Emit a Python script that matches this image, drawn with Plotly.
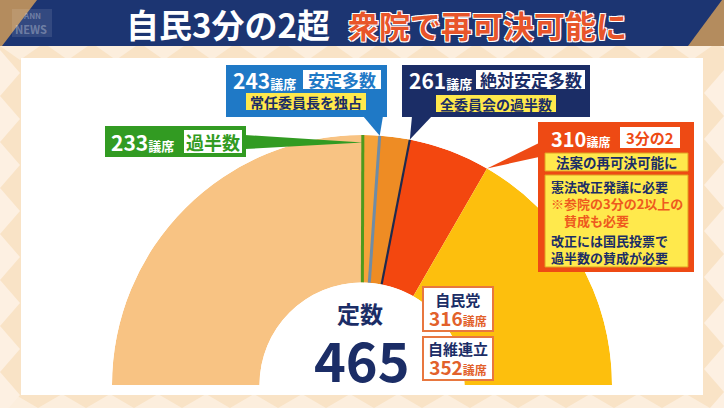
import math
import plotly.graph_objects as go

# ---------------- data ----------------
TOTAL = 465
thresholds = [233, 243, 261, 310]
threshold_names = ["過半数", "安定多数", "絶対安定多数", "3分の2"]
threshold_notes = ["", "常任委員長を独占", "全委員会の過半数", "法案の再可決可能に"]
seg_colors = ["#F8C383", "#F5A23A", "#EE8C24", "#F3470F", "#FDBF0D"]
line_colors = ["#4F9A1C", "#6F8CA6", "#1E2A4E"]
parties = ["自民党", "自維連立"]
party_seats = [316, 352]
title_white = "自民3分の2超"
title_red = "衆院で再可決可能に"
notes_310_a = ["憲法改正発議に必要", "※参院の3分の2以上の", "　賛成も必要"]
notes_310_b = ["改正には国民投票で", "過半数の賛成が必要"]

# ---------------- geometry ----------------
W, H = 724, 408
CX, CY, R = 362, 385, 250
HOLE = 0.41
DEG = 180.0 / TOTAL
FONT = "Noto Sans CJK JP"
NAVY = "#1B2D66"
NOTE_RED = "#EE5A1E"


def px(x):
    return x / W


def py(y):
    return 1 - y / H


def rect(x0, y0, x1, y1, fill, line=None, lw=0, layer="above"):
    return dict(type="rect", xref="paper", yref="paper", x0=px(x0), x1=px(x1),
                y0=py(y1), y1=py(y0), fillcolor=fill,
                line=dict(color=line or fill, width=lw), layer=layer)


def poly(pts, fill, layer="above"):
    path = "M " + " L ".join(f"{px(x):.5f},{py(y):.5f}" for x, y in pts) + " Z"
    return dict(type="path", xref="paper", yref="paper", path=path,
                fillcolor=fill, line=dict(width=0), layer=layer)


def text(x, y, s, size, color, xanchor="center", weight=700, shadow=None, align="center"):
    f = dict(family=FONT, size=size, color=color, weight=weight)
    if shadow:
        f["shadow"] = shadow
    return dict(x=px(x), y=py(y), xref="paper", yref="paper", text=s,
                showarrow=False, xanchor=xanchor, yanchor="middle", font=f,
                align=align, borderpad=0)


def edge_point(seats, rfrac=1.0):
    ang = math.radians(seats * DEG)
    return (CX - R * rfrac * math.cos(ang), CY - R * rfrac * math.sin(ang))


fig = go.Figure()

# semicircle segments
bounds = [0] + thresholds + [TOTAL]
for i in range(len(bounds) - 1):
    a, b = bounds[i], bounds[i + 1]
    fig.add_trace(go.Barpolar(
        r=[1], theta=[(a + b) / 2 * DEG], width=[(b - a) * DEG], base=0,
        marker=dict(color=seg_colors[i], line=dict(width=0)),
        showlegend=False, hoverinfo="skip"))

# boundary lines
for t, c, w in zip(thresholds[:3], line_colors, [3, 3, 2.2]):
    fig.add_trace(go.Scatterpolar(
        r=[0, 1], theta=[t * DEG, t * DEG], mode="lines",
        line=dict(color=c, width=w), showlegend=False, hoverinfo="skip"))

shapes = []
ann = []

# background
shapes.append(rect(0, 46, 724, 408, "#F9E3C6", layer="below"))
for i in range(0, 16):
    x0 = i * 48 - 10
    shapes.append(poly([(x0, 408), (x0 + 24, 394), (x0 + 48, 408)], "#FCEEDD", layer="below"))
    shapes.append(poly([(x0 + 10, 46), (x0 + 30, 60), (x0 + 50, 46)], "#FCEEDD", layer="below"))
for j in range(0, 8):
    y0 = 50 + j * 46
    shapes.append(poly([(0, y0), (20, y0 + 23), (0, y0 + 46)], "#FDF0E2", layer="below"))
    shapes.append(poly([(724, y0 + 20), (704, y0 + 43), (724, y0 + 66)], "#FDF0E2", layer="below"))
shapes.append(rect(21, 58, 703, 395, "#FFFFFF", layer="below"))
# title bar
shapes.append(rect(0, 0, 724, 46, "#1C3572", layer="below"))
shapes.append(poly([(0, 0), (37, 0), (2, 46), (0, 46)], "#B48C5E", layer="below"))
shapes.append(poly([(722, 0), (724, 0), (724, 46), (688, 46)], "#B48C5E", layer="below"))
shapes.append(rect(12, 9, 52, 37, "rgba(255,255,255,0.10)", layer="below"))
ann.append(text(32, 16, "ANN", 8, "rgba(255,255,255,0.30)"))
ann.append(text(31, 29, "NEWS", 11, "rgba(255,255,255,0.30)"))
ann.append(text(228, 24, title_white, 33, "#FFFFFF"))
ann.append(text(487, 24, title_red, 31, "#E8552A",
                shadow="1px 1px 0 #fff, -1px -1px 0 #fff, 1px -1px 0 #fff, -1px 1px 0 #fff"))

small = "<span style='font-size:13px'>議席</span>"

# --- 233 callout (green)
GREEN = "#329B22"
tip = edge_point(thresholds[0], 0.97)
shapes.append(poly([(245, 135), tip, (245, 149)], GREEN))
shapes.append(rect(105, 126, 246, 157, GREEN))
ann.append(text(110, 142, f"{thresholds[0]}{small}", 21, "#FFFFFF", xanchor="left"))
shapes.append(rect(184, 130, 242, 153, "#FFFFFF"))
ann.append(text(213, 141.5, threshold_names[0], 18, GREEN))

# --- 243 callout (blue)
BLUE = "#1F79C6"
tip = edge_point(thresholds[1], 1.0)
shapes.append(poly([(363, 116), tip, (383, 116)], BLUE))
shapes.append(rect(226, 65, 387, 117, BLUE))
ann.append(text(232, 80, f"{thresholds[1]}{small}", 21, "#FFFFFF", xanchor="left"))
shapes.append(rect(303, 70, 381, 89, "#FFFFFF"))
ann.append(text(342, 79.5, threshold_names[1], 17, BLUE))
shapes.append(rect(246, 93, 366, 110, "#FFE94C"))
ann.append(text(306, 101.5, threshold_notes[1], 14, NAVY))

# --- 261 callout (navy)
tip = edge_point(thresholds[2], 1.0)
shapes.append(poly([(412, 116), tip, (432, 116)], NAVY))
shapes.append(rect(402, 65, 590, 117, NAVY))
ann.append(text(408, 80, f"{thresholds[2]}{small}", 21, "#FFFFFF", xanchor="left"))
shapes.append(rect(476, 70, 585, 89, "#FFFFFF"))
ann.append(text(530.5, 79.5, threshold_names[2], 17, NAVY))
shapes.append(rect(436, 95, 556, 112, "#FFE94C"))
ann.append(text(496, 103.5, threshold_notes[2], 14, NAVY))

# --- 310 callout (red)
RED = "#EE4A14"
tip = edge_point(thresholds[3], 1.0)
shapes.append(poly([(539, 143), tip, (539, 157)], RED))
shapes.append(rect(538, 122, 694, 272, RED))
ann.append(text(550, 138, f"{thresholds[3]}<span style='font-size:12px'>議席</span>", 20,
                "#FFFFFF", xanchor="left"))
shapes.append(rect(620, 127, 680, 148, "#FFFFFF"))
ann.append(text(650, 137.5, threshold_names[3], 15, RED))
shapes.append(rect(545, 153, 688, 171, "#FFE94C", line="#E0A020", lw=1))
ann.append(text(616.5, 162, threshold_notes[3], 13.5, NAVY))
shapes.append(rect(545, 175, 688, 267, "#FFE94C", line="#E0A020", lw=1))
block_a = (notes_310_a[0] + "<br>" +
           "<br>".join(f"<span style='color:{NOTE_RED}'>{s}</span>" for s in notes_310_a[1:]))
ann.append(text(550, 203, block_a, 13, NAVY, xanchor="left", align="left"))
ann.append(text(550, 249, "<br>".join(notes_310_b), 13, NAVY, xanchor="left", align="left"))

# --- center total
ann.append(text(360, 313, "定数", 23, NAVY))
ann.append(text(362, 358, str(TOTAL), 54, NAVY))

# --- party boxes
ORANGE_T = "#E2612B"
box_y = [(287, 331), (337, 380)]
for name, seats, (y0, y1) in zip(parties, party_seats, box_y):
    shapes.append(rect(423, y0, 493, y1, "#FFFFFF", line="#E8773F", lw=2))
    ann.append(text(458, (y0 + y1) / 2 + 0.5,
                    f"{name}<br><span style='color:{ORANGE_T};font-size:19px'>{seats}</span>"
                    f"<span style='color:{ORANGE_T};font-size:12px'>議席</span>",
                    15, NAVY))

fig.update_layout(
    width=W, height=H,
    margin=dict(l=0, r=0, t=0, b=0),
    paper_bgcolor="#F9E3C6",
    plot_bgcolor="rgba(0,0,0,0)",
    showlegend=False,
    polar=dict(
        domain=dict(x=[(CX - R) / W, (CX + R) / W], y=[py(CY), py(CY - R)]),
        sector=[0, 180],
        hole=HOLE,
        bgcolor="rgba(0,0,0,0)",
        angularaxis=dict(rotation=180, direction="clockwise", visible=False,
                         showgrid=False, showline=False, ticks=""),
        radialaxis=dict(range=[0, 1], visible=False, showgrid=False,
                        showline=False, ticks=""),
    ),
    shapes=shapes,
    annotations=ann,
)

fig.write_html("out.html",
               config={"displayModeBar": False},
               post_script="document.body.style.margin='0px';document.body.style.padding='0px';")
